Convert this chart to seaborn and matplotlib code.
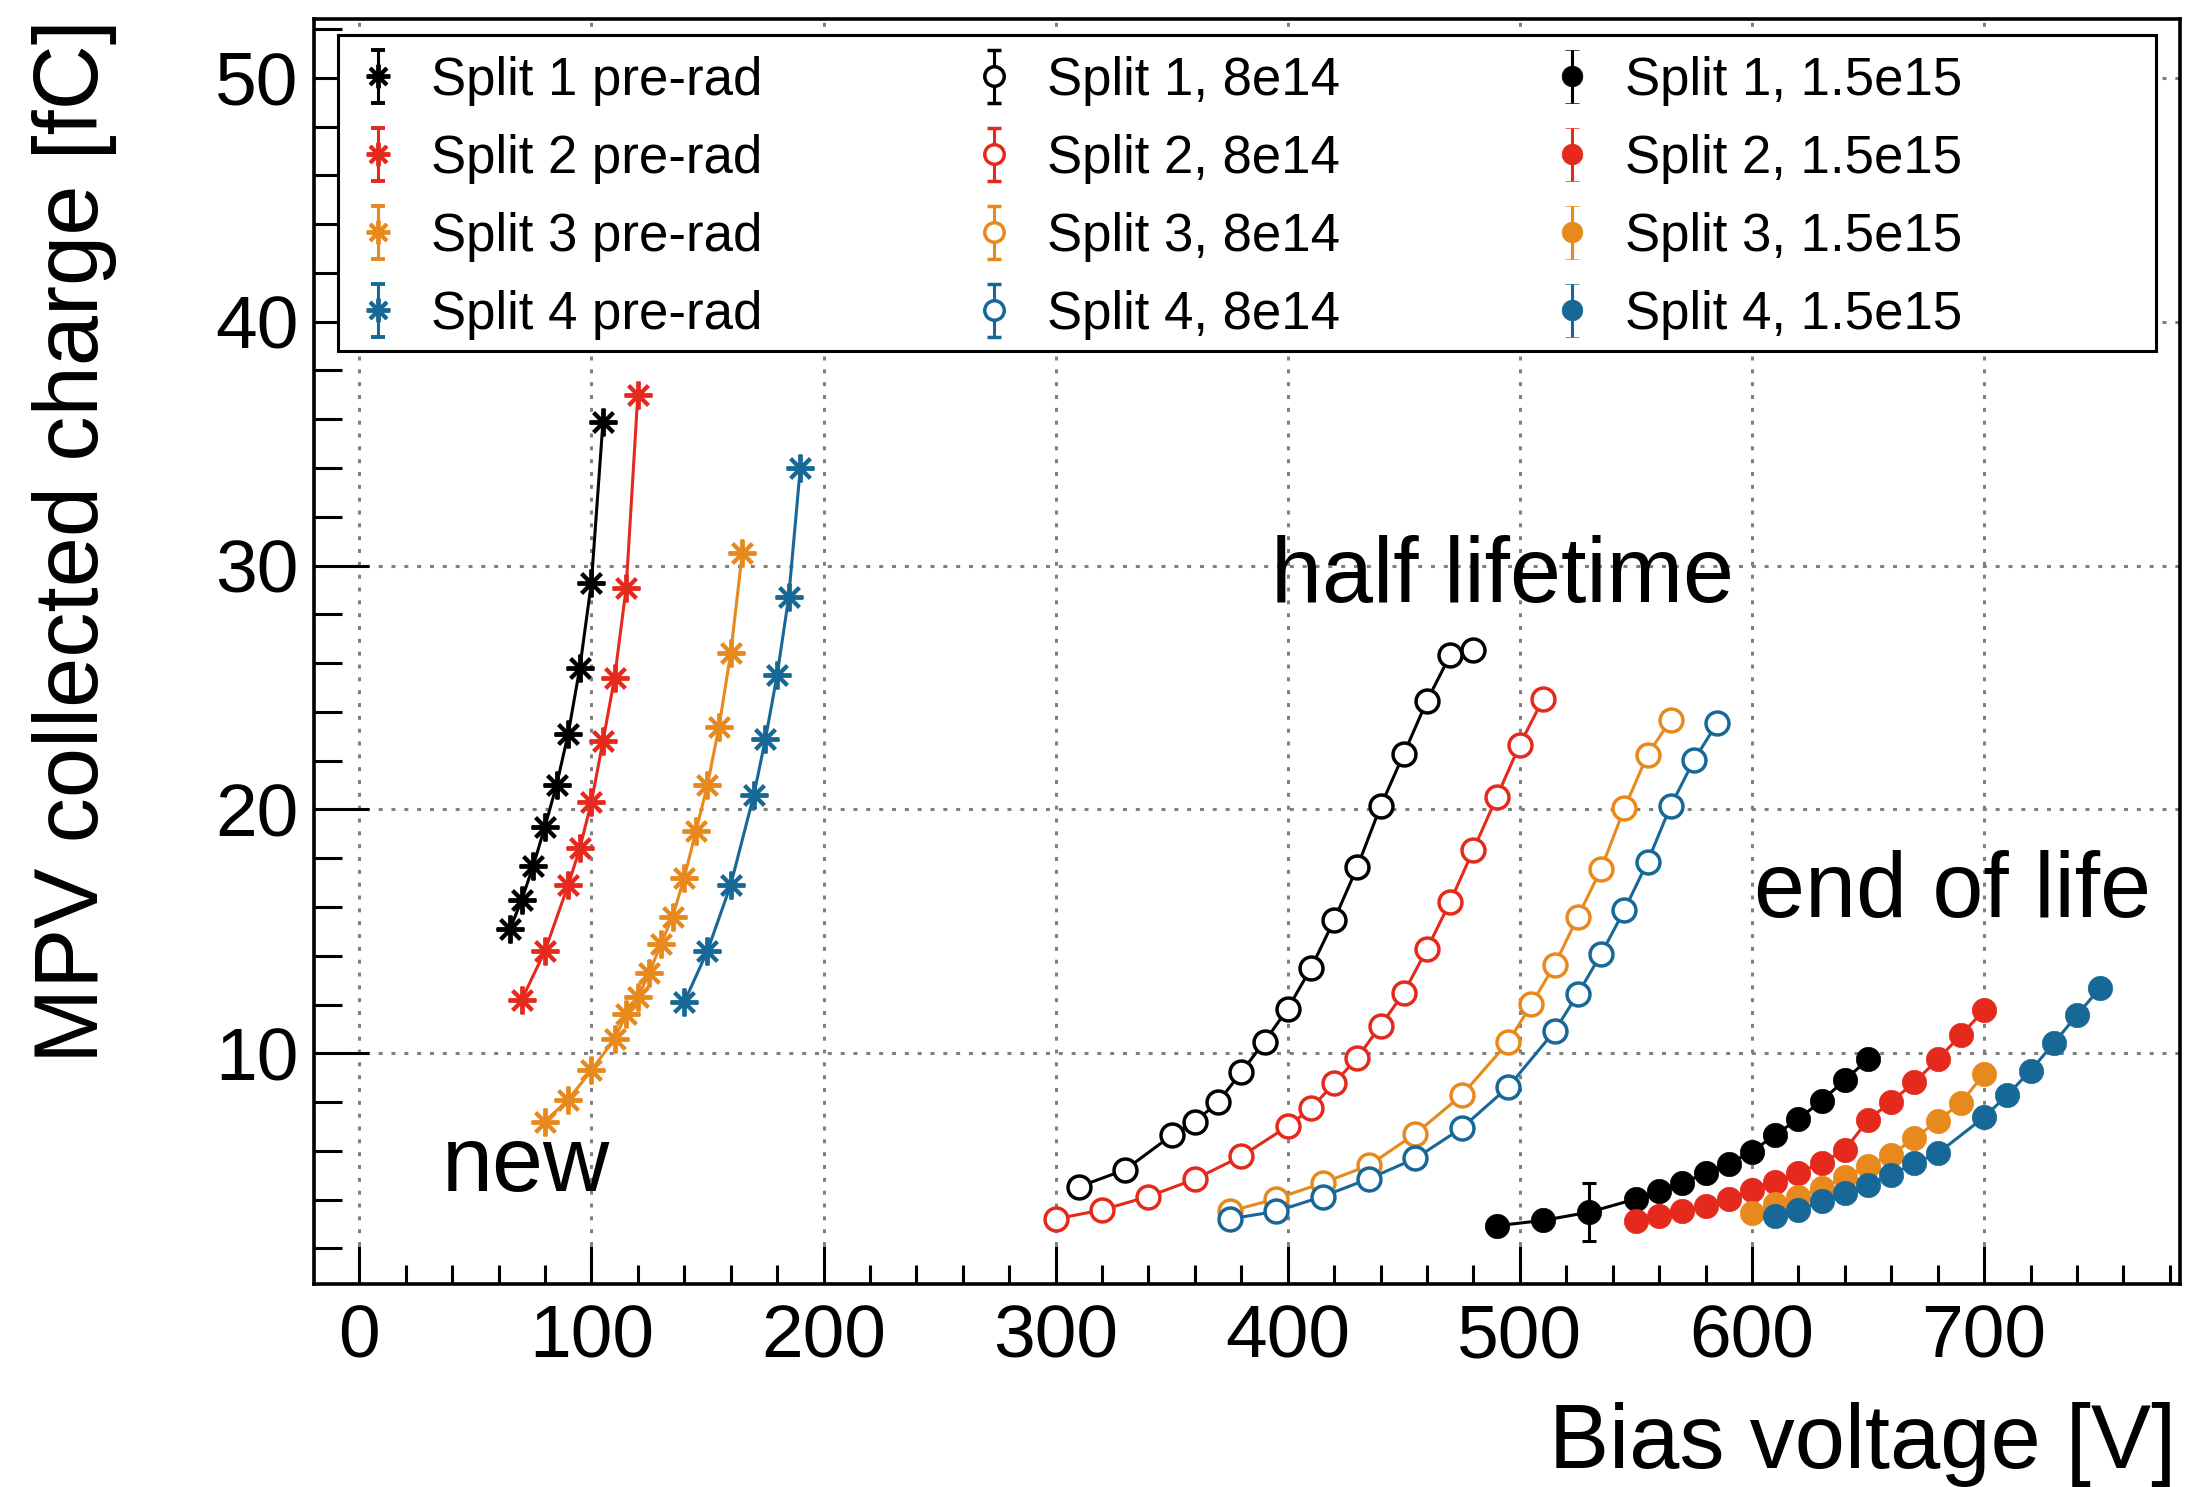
import numpy as np
import matplotlib
matplotlib.use('Agg')
import matplotlib.pyplot as plt
import seaborn as sns
from matplotlib.patches import Rectangle
from matplotlib.ticker import MultipleLocator

# --- dados ---
# pre-rad (new)
pre1_v = [65, 70, 75, 80, 85, 90, 95, 100, 105]
pre1_q = [15.1, 16.3, 17.7, 19.3, 21.0, 23.1, 25.8, 29.3, 35.9]
pre2_v = [70, 80, 90, 95, 100, 105, 110, 115, 120]
pre2_q = [12.2, 14.2, 16.9, 18.4, 20.3, 22.8, 25.4, 29.1, 37.0]
pre3_v = [80, 90, 100, 110, 115, 120, 125, 130, 135, 140, 145, 150, 155, 160, 165]
pre3_q = [7.2, 8.1, 9.3, 10.6, 11.6, 12.3, 13.3, 14.5, 15.6, 17.2, 19.1, 21.0, 23.4, 26.4, 30.5]
pre4_v = [140, 150, 160, 170, 175, 180, 185, 190]
pre4_q = [12.1, 14.2, 16.9, 20.6, 22.9, 25.5, 28.7, 34.0]

# 8e14 (half lifetime)
mid1_v = [310, 330, 350, 360, 370, 380, 390, 400, 410, 420, 430, 440, 450, 460, 470, 480]
mid1_q = [4.53, 5.23, 6.64, 7.19, 8.0, 9.23, 10.48, 11.83, 13.49, 15.47, 17.65, 20.13, 22.28, 24.46, 26.33, 26.55]
mid2_v = [300, 320, 340, 360, 380, 400, 410, 420, 430, 440, 450, 460, 470, 480, 490, 500, 510]
mid2_q = [3.21, 3.58, 4.13, 4.84, 5.78, 7.01, 7.74, 8.77, 9.82, 11.14, 12.48, 14.28, 16.22, 18.35, 20.5, 22.66, 24.53]
mid3_v = [375, 395, 415, 435, 455, 475, 495, 505, 515, 525, 535, 545, 555, 565]
mid3_q = [3.52, 4.04, 4.68, 5.41, 6.70, 8.29, 10.46, 12.02, 13.63, 15.6, 17.56, 20.04, 22.24, 23.67]
mid4_v = [375, 395, 415, 435, 455, 475, 495, 515, 525, 535, 545, 555, 565, 575, 585]
mid4_q = [3.21, 3.52, 4.13, 4.86, 5.69, 6.94, 8.62, 10.92, 12.44, 14.07, 15.87, 17.85, 20.15, 22.02, 23.54]

# 1.5e15 (end of life)
end1_v = [490, 510, 530, 550, 560, 570, 580, 590, 600, 610, 620, 630, 640, 650]
end1_q = [2.93, 3.15, 3.49, 4.03, 4.34, 4.68, 5.09, 5.47, 5.97, 6.66, 7.31, 8.05, 8.91, 9.75]
end1_err = [0, 0, 1.2, 0, 0, 0, 0, 0, 0, 0, 0, 0, 0, 0]
end2_v = [550, 560, 570, 580, 590, 600, 610, 620, 630, 640, 650, 660, 670, 680, 690, 700]
end2_q = [3.13, 3.34, 3.54, 3.75, 4.02, 4.38, 4.74, 5.11, 5.50, 6.04, 7.27, 8.02, 8.81, 9.75, 10.75, 11.77]
end3_v = [600, 610, 620, 630, 640, 650, 660, 670, 680, 690, 700]
end3_q = [3.45, 3.83, 4.13, 4.47, 4.92, 5.39, 5.84, 6.52, 7.23, 7.98, 9.15]
end4_v = [610, 620, 630, 640, 650, 660, 670, 680, 700, 710, 720, 730, 740, 750]
end4_q = [3.34, 3.58, 3.93, 4.27, 4.61, 5.02, 5.50, 5.90, 7.38, 8.29, 9.29, 10.41, 11.57, 12.68]

cores = ['#000000', '#e5291d', '#e8891d', '#176896']
splits = ['Split 1', 'Split 2', 'Split 3', 'Split 4']

sns.set_style('white')
plt.rcParams['font.family'] = ['Liberation Sans', 'DejaVu Sans']
plt.rcParams['text.color'] = 'black'
plt.rcParams['axes.labelcolor'] = 'black'
plt.rcParams['xtick.color'] = 'black'
plt.rcParams['ytick.color'] = 'black'

fig = plt.figure(figsize=(21.94, 14.87), dpi=100)
ax = fig.add_axes([0.14312, 0.13631, 0.85050, 0.85090])

estrela = (8, 2, 0)
series = [
    (pre1_v, pre1_q, 0, 'pre'), (pre2_v, pre2_q, 1, 'pre'), (pre3_v, pre3_q, 2, 'pre'), (pre4_v, pre4_q, 3, 'pre'),
    (mid1_v, mid1_q, 0, 'mid'), (mid2_v, mid2_q, 1, 'mid'), (mid3_v, mid3_q, 2, 'mid'), (mid4_v, mid4_q, 3, 'mid'),
    (end1_v, end1_q, 0, 'end'), (end2_v, end2_q, 1, 'end'), (end3_v, end3_q, 2, 'end'), (end4_v, end4_q, 3, 'end'),
]

def estilo(tipo, c):
    if tipo == 'pre':
        return dict(marker=estrela, markersize=20, mec=c, mew=2.8)
    if tipo == 'mid':
        return dict(marker='o', markersize=16.5, mec=c, mfc='white', mew=2.5)
    return dict(marker='o', markersize=17.5, mec=c, mfc=c, mew=0.5)

for v, q, i, tipo in series:
    c = cores[i]
    sns.lineplot(x=v, y=q, color=c, lw=2.2, estimator=None, sort=False,
                 legend=False, ax=ax, zorder=3, **estilo(tipo, c))

# barra de erro visível
e = np.array(end1_err)
m = e > 0
ax.errorbar(np.array(end1_v)[m], np.array(end1_q)[m], yerr=e[m], fmt='none',
            ecolor='k', elinewidth=2.2, capsize=5, capthick=2.2, zorder=4)

# --- eixos ---
ax.set_xlim(-19.5, 784.4)
ax.set_ylim(0.53, 52.41)
ax.xaxis.set_major_locator(MultipleLocator(100))
ax.xaxis.set_minor_locator(MultipleLocator(20))
ax.yaxis.set_major_locator(MultipleLocator(10))
ax.yaxis.set_minor_locator(MultipleLocator(2))
ax.set_xticks(range(0, 800, 100))
ax.set_xticklabels([str(t) for t in range(0, 800, 100)])

ax.tick_params(axis='x', which='major', direction='in', length=27.4, width=2.2, labelsize=54, pad=14)
ax.tick_params(axis='x', which='minor', direction='in', length=13.7, width=2.2)
ax.tick_params(axis='y', which='major', direction='in', length=39.6, width=2.2, labelsize=54, pad=11)
ax.tick_params(axis='y', which='minor', direction='in', length=20.2, width=2.2)
ax.tick_params(top=False, right=False, bottom=True, left=True, which='both')
for s in ax.spines.values():
    s.set_linewidth(2.6)
    s.set_color('black')

ax.grid(which='major', color='#808080', ls=(0, (1.3, 2.9)), lw=2.2)
ax.set_axisbelow(True)

ax.set_xlabel('Bias voltage [V]', fontsize=65, ha='right', va='baseline')
ax.xaxis.set_label_coords(0.998, -0.1452)
ax.set_ylabel('MPV collected charge [fC]', fontsize=65, ha='right', va='top')
ax.yaxis.set_label_coords(-0.151, 1.0)

ax.text(71.8, 4.35, 'new', fontsize=66, ha='center', va='baseline')
ax.text(492.5, 28.5, 'half lifetime', fontsize=66, ha='center', va='baseline')
ax.text(686.5, 15.6, 'end of life', fontsize=66, ha='center', va='baseline')

# --- legenda ---
ax.add_patch(Rectangle((0.01286, 0.7376), 0.9871 - 0.01286, 0.9873 - 0.7376, transform=ax.transAxes,
                       facecolor='white', edgecolor='black', lw=2.2, zorder=4))
handles = []
for tipo, nome in [('pre', '{} pre-rad'), ('mid', '{}, 8e14'), ('end', '{}, 1.5e15')]:
    for i in range(4):
        c = cores[i]
        st = estilo(tipo, c)
        h = ax.errorbar([np.nan], [np.nan], yerr=[1], ls='none', color=c, ecolor=c,
                        elinewidth=2.2, capsize=5, capthick=2.2,
                        marker=st['marker'], markersize=st['markersize'] * 0.85,
                        mec=st['mec'], mfc=st.get('mfc', c), mew=st['mew'],
                        label=nome.format(splits[i]))
        handles.append(h)
leg = ax.legend(handles=handles, ncol=3, loc='upper left', bbox_to_anchor=(0.023, 0.971),
                frameon=False, fontsize=38, handlelength=0.8, handletextpad=0.6,
                columnspacing=4.0, labelspacing=0.53, borderpad=0, borderaxespad=0)
leg.set_zorder(5)

plt.savefig('out.png', dpi=100)
plt.close()
